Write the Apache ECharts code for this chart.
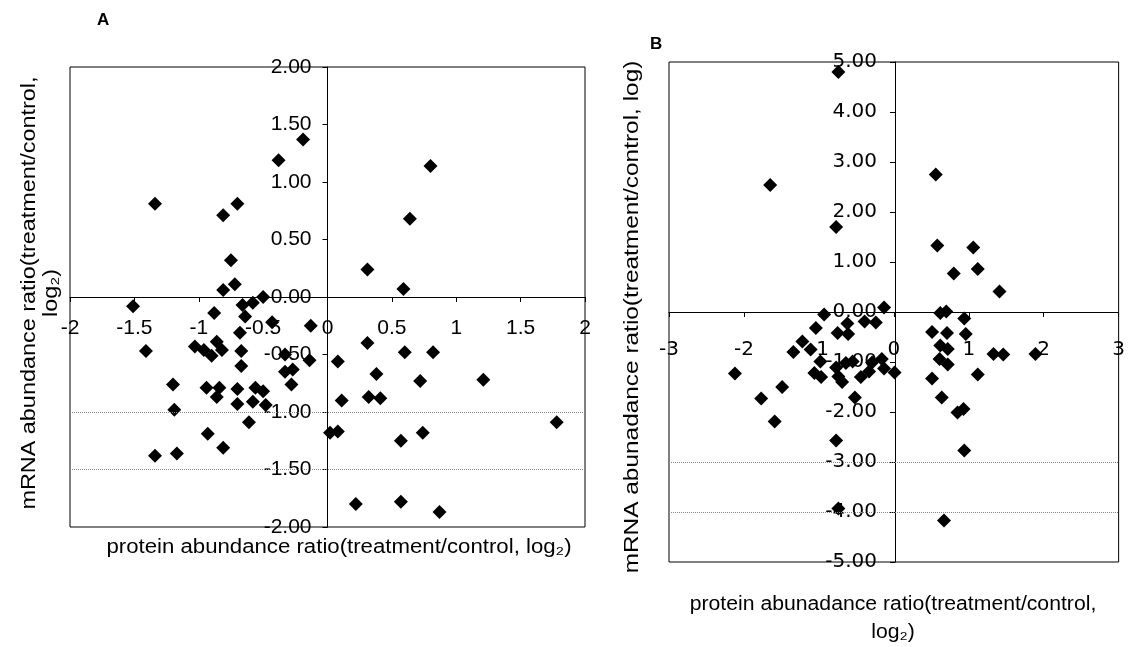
<!DOCTYPE html>
<html><head><meta charset="utf-8">
<script src="https://cdn.jsdelivr.net/npm/echarts@6/dist/echarts.min.js"></script>
<style>html,body{margin:0;padding:0;background:#fff}#c{width:1128px;height:647px}</style>
</head><body><div id="c"></div>
<script>
// Panel A: protein (x) vs mRNA (y) abundance ratios, log2
const panelA = [
  [-1.34,0.81],[-0.81,0.71],[-0.70,0.81],[-0.75,0.32],[-0.72,0.11],[-0.81,0.06],
  [-0.38,1.19],[-0.19,1.37],[0.80,1.14],[0.64,0.68],[0.31,0.24],[0.59,0.07],
  [-1.51,-0.08],[-0.88,-0.14],[-0.66,-0.07],[-0.58,-0.05],[-0.50,0.00],[-0.64,-0.17],
  [-0.68,-0.31],[-1.41,-0.47],[-1.03,-0.43],[-0.96,-0.46],[-0.90,-0.51],[-0.86,-0.39],
  [-0.82,-0.46],[-0.67,-0.47],[-0.67,-0.60],[-1.20,-0.76],[-1.19,-0.98],[-0.94,-0.79],
  [-0.84,-0.79],[-0.86,-0.87],[-0.70,-0.80],[-0.70,-0.93],[-0.56,-0.79],[-0.50,-0.82],
  [-0.58,-0.91],[-0.48,-0.94],[-0.61,-1.09],[-0.93,-1.19],[-0.81,-1.31],[-1.34,-1.38],
  [-1.17,-1.36],[-0.43,-0.22],[-0.13,-0.25],[-0.33,-0.50],[-0.14,-0.55],[-0.33,-0.65],
  [-0.27,-0.63],[-0.28,-0.76],[0.08,-0.56],[0.31,-0.40],[0.38,-0.67],[0.11,-0.90],
  [0.32,-0.87],[0.41,-0.88],[0.60,-0.48],[0.82,-0.48],[0.72,-0.73],[1.21,-0.72],
  [0.02,-1.18],[0.08,-1.17],[0.57,-1.25],[0.74,-1.18],[0.22,-1.80],[0.57,-1.78],
  [0.87,-1.87],[1.78,-1.09]
];
// Panel B
const panelB = [
  [-0.74,4.80],[-1.65,2.54],[-0.77,1.70],[-0.13,0.09],[-0.93,-0.05],
  [0.56,2.75],[0.58,1.33],[1.06,1.29],[0.80,0.77],[1.12,0.86],[1.41,0.41],
  [0.62,-0.02],[0.70,0.01],[0.94,-0.13],
  [-1.04,-0.32],[-0.75,-0.42],[-0.62,-0.23],[-0.61,-0.44],[-0.39,-0.19],[-0.24,-0.21],
  [-1.22,-0.59],[-1.11,-0.75],[-1.34,-0.80],[-2.12,-1.23],[-0.98,-0.99],[-1.06,-1.22],
  [-0.97,-1.30],[-0.77,-1.11],[-0.74,-1.29],[-0.69,-1.40],[-0.64,-1.02],[-0.55,-0.99],
  [-0.44,-1.30],[-0.33,-1.19],[-0.29,-1.01],[-0.16,-0.94],[-0.13,-1.13],[0.01,-1.21],
  [-1.49,-1.50],[-1.77,-1.73],[-1.59,-2.19],[-0.52,-1.71],[-0.77,-2.57],[-0.74,-3.93],
  [0.51,-0.40],[0.71,-0.42],[0.96,-0.44],[0.62,-0.67],[0.72,-0.74],[0.61,-0.94],
  [0.72,-1.05],[1.33,-0.84],[1.46,-0.85],[1.89,-0.84],[0.51,-1.33],[1.12,-1.25],
  [0.64,-1.71],[0.85,-2.01],[0.93,-1.94],[0.94,-2.77],[0.67,-4.17]
];
const gridLinesA = [-1, -1.5];
const gridLinesB = [-3, -4];
const titleA = 'A';
const titleB = 'B';
const xNameA = 'protein abundance ratio(treatment/control, log₂)';
const yNameA = 'mRNA abundance ratio(treatment/control,\nlog₂)';
const xNameB = 'protein abunadance ratio(treatment/control,\nlog₂)';
const yNameB = 'mRNA abunadance ratio(treatment/control, log)';

const FONT = '"Liberation Sans", Arial, sans-serif';
const FONTW = '"DejaVu Sans", sans-serif';
const lblA = {color:'#000', fontFamily:FONT, fontSize:21};
const lblB = {color:'#000', fontFamily:FONTW, fontSize:20};
const axLine = {onZero:false, lineStyle:{color:'#000', width:1}};
const tick = {show:true, length:5, lineStyle:{color:'#000'}};

// grid boxes
const gA = {left:70, top:67, width:515, height:460};
const gB = {left:669, top:62, width:452, height:500};

function ml(vals){
  return {silent:true, symbol:'none', label:{show:false},
    lineStyle:{color:'#888', type:'dotted', width:1},
    data: vals.map(v=>({yAxis:v}))};
}

const chart = echarts.init(document.getElementById('c'), null, {renderer:'canvas'});
chart.setOption({
  backgroundColor:'#fff',
  animation:false,
  grid:[
    Object.assign({show:true, borderColor:'#000', borderWidth:1, backgroundColor:'transparent'}, gA),
    Object.assign({show:true, borderColor:'#000', borderWidth:1, backgroundColor:'transparent'}, gB)
  ],
  xAxis:[
    {gridIndex:0, type:'value', min:-2, max:2, interval:0.5, position:'bottom', offset:-gA.height/2,
     axisLine:axLine, axisTick:tick, splitLine:{show:false},
     axisLabel:Object.assign({margin:21, formatter:v=>String(v)}, lblA)},
    {gridIndex:1, type:'value', min:-3, max:3, interval:1, position:'bottom', offset:-gB.height/2,
     axisLine:axLine, axisTick:tick, splitLine:{show:false},
     axisLabel:Object.assign({margin:28, formatter:v=>String(v)}, lblB)}
  ],
  yAxis:[
    {gridIndex:0, type:'value', min:-2, max:2, interval:0.5, position:'left', offset:-gA.width/2,
     axisLine:axLine, axisTick:tick, splitLine:{show:false},
     axisLabel:Object.assign({margin:16, formatter:v=>v.toFixed(2)}, lblA)},
    {gridIndex:1, type:'value', min:-5, max:5, interval:1, position:'left', offset:-gB.width/2,
     axisLine:axLine, axisTick:tick, splitLine:{show:false},
     axisLabel:Object.assign({margin:18, formatter:v=>v.toFixed(2)}, lblB)}
  ],
  series:[
    {type:'scatter', xAxisIndex:0, yAxisIndex:0, data:panelA, symbol:'diamond', symbolSize:14,
     itemStyle:{color:'#000', opacity:1}, markLine:ml(gridLinesA), z:3},
    {type:'scatter', xAxisIndex:1, yAxisIndex:1, data:panelB, symbol:'diamond', symbolSize:14,
     itemStyle:{color:'#000', opacity:1}, markLine:ml(gridLinesB), z:3}
  ],
  graphic:[
    {type:'text', left:97, top:12, style:{text:titleA, font:'bold 17px '+FONT, fill:'#000'}},
    {type:'text', left:650, top:36, style:{text:titleB, font:'bold 17px '+FONT, fill:'#000'}},
    {type:'text', x:339, y:547, scaleX:1.11, style:{text:xNameA, font:'20px '+FONT, fill:'#000', align:'center', verticalAlign:'middle'}},
    {type:'text', x:40, y:293, rotation:Math.PI/2, scaleX:1.17, style:{text:yNameA, font:'20px '+FONT, fill:'#000', align:'center', verticalAlign:'middle', lineHeight:22}},
    {type:'text', x:893, y:618, scaleX:1.06, style:{text:xNameB, font:'20px '+FONT, fill:'#000', align:'center', verticalAlign:'middle', lineHeight:28}},
    {type:'text', x:632, y:317, rotation:Math.PI/2, scaleX:1.22, style:{text:yNameB, font:'20px '+FONT, fill:'#000', align:'center', verticalAlign:'middle'}}
  ]
});
</script></body></html>
